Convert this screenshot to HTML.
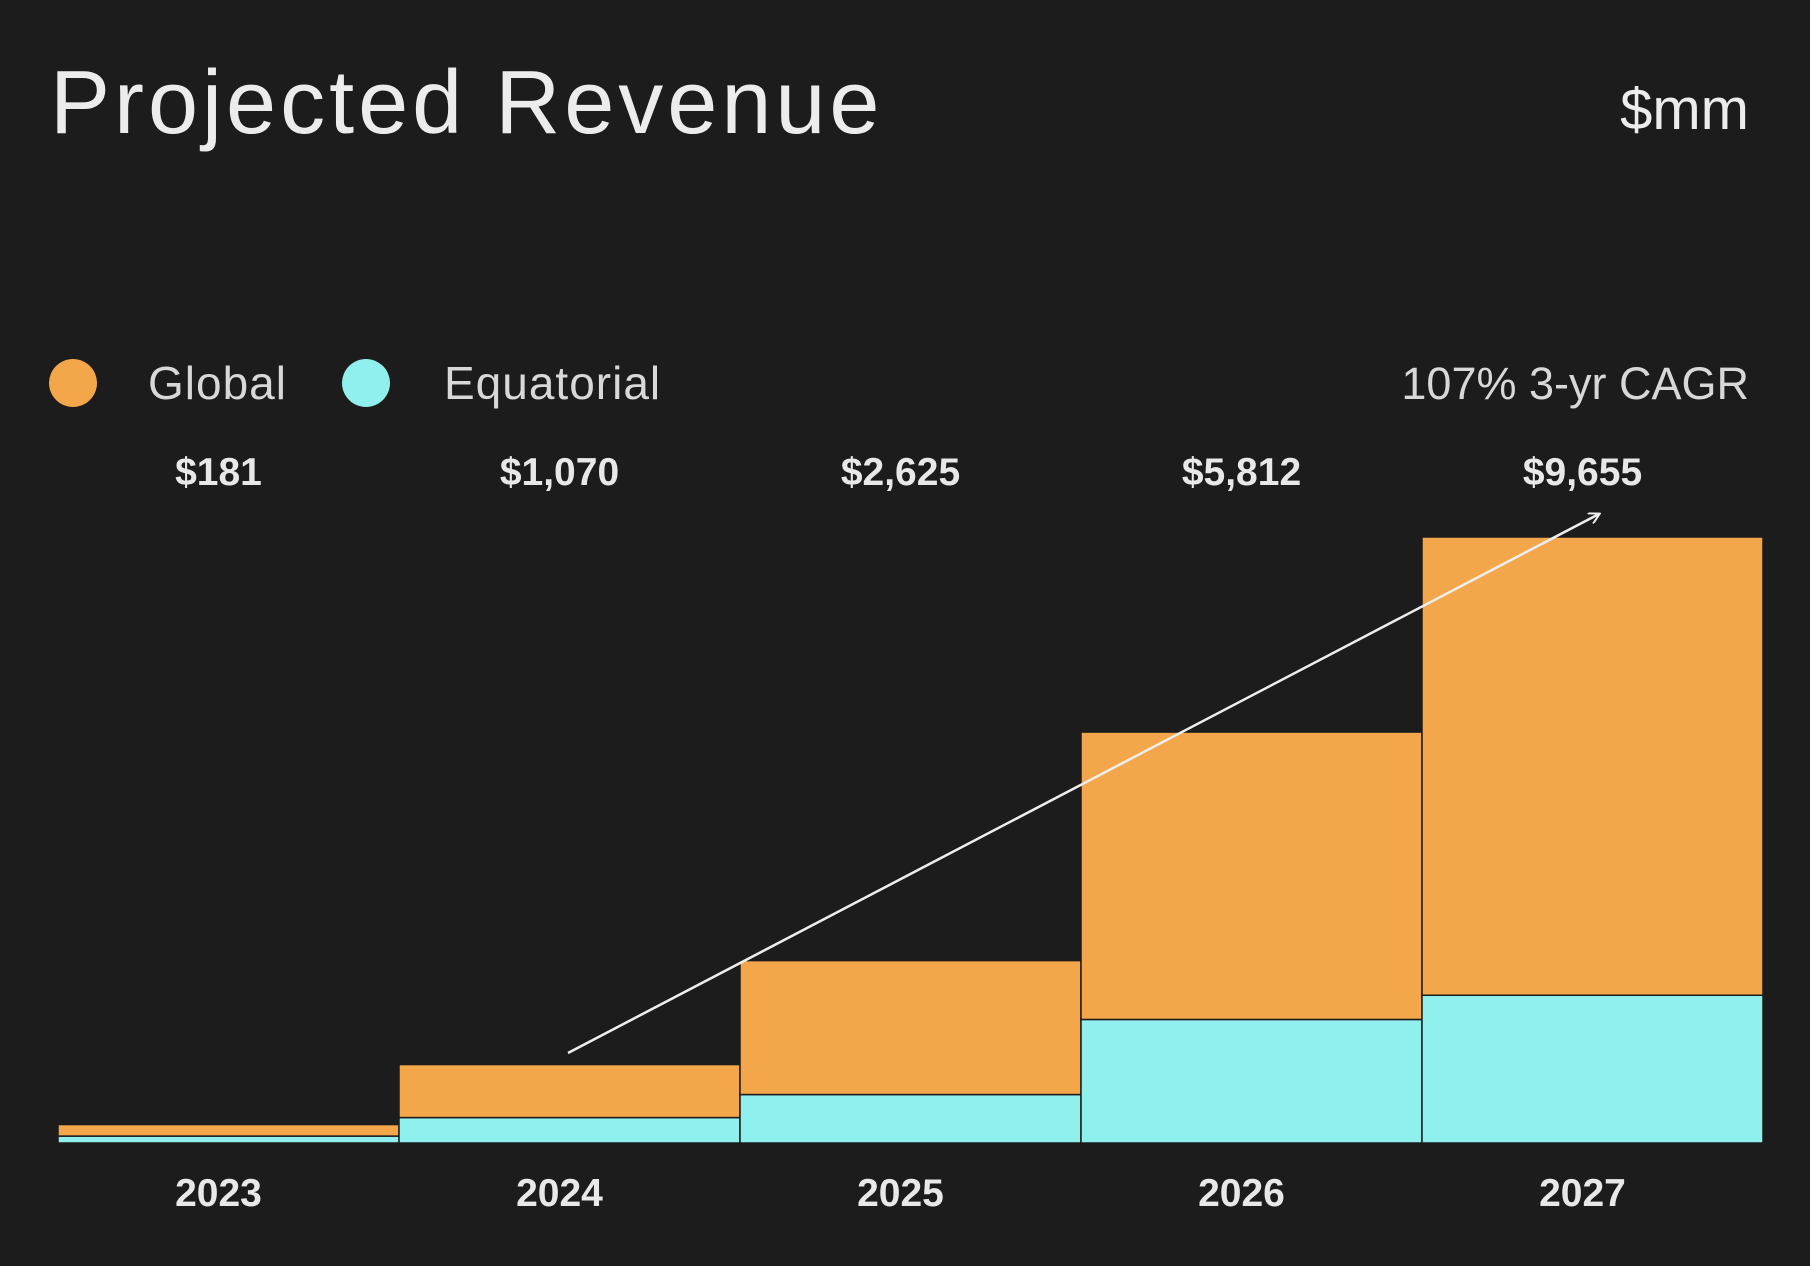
<!DOCTYPE html>
<html><head><meta charset="utf-8"><style>
html,body{margin:0;padding:0;background:#1c1c1c;}
svg{display:block;font-family:"Liberation Sans",sans-serif;}
</style></head><body>
<svg id="chart" width="1810" height="1266" viewBox="0 0 1810 1266" xmlns="http://www.w3.org/2000/svg">
<rect width="1810" height="1266" fill="#1c1c1c"/>
<text x="50" y="133" font-size="90" fill="#ececec" letter-spacing="4">Projected Revenue</text>
<text x="1749" y="129" font-size="58" fill="#ececec" text-anchor="end">$mm</text>
<circle cx="73" cy="383" r="24" fill="#f4a64a"/>
<text x="148" y="399" font-size="46" fill="#d8d8d8" letter-spacing="1">Global</text>
<circle cx="366" cy="383" r="24" fill="#8ff0ee"/>
<text x="444" y="399" font-size="46" fill="#d8d8d8" letter-spacing="1">Equatorial</text>
<text x="1749" y="399" font-size="45" fill="#d8d8d8" text-anchor="end">107% 3-yr CAGR</text>
<g id="bars"></g>
<g id="labels"></g>
<defs><marker id="ah" markerWidth="12" markerHeight="12" refX="10" refY="6" orient="auto" markerUnits="userSpaceOnUse"><path d="M0,0 L11,6 L0,12" fill="none" stroke="#eee" stroke-width="2"/></marker></defs>
<line x1="568" y1="1053" x2="1599" y2="514" stroke="#eeeeee" stroke-width="2.5" marker-end="url(#ah)"/>
</svg>
<script>
const years = ["2023","2024","2025","2026","2027"];
const totals = ["$181","$1,070","$2,625","$5,812","$9,655"];
const globalVals = [184, 845, 2134, 4579, 7301];
const equatorialVals = [110, 405, 772, 1968, 2354];
const NS="http://www.w3.org/2000/svg";
const x0=58, bw=341, base=1143, ppu=606/9655;
const xs=i=>x0+i*bw;
const ys=v=>v*ppu;
const bars=document.getElementById('bars'), labels=document.getElementById('labels');
function mk(tag,attrs,parent){const e=document.createElementNS(NS,tag);for(const k in attrs)e.setAttribute(k,attrs[k]);parent.appendChild(e);return e;}
years.forEach((y,i)=>{
  const he=ys(equatorialVals[i]), hg=ys(globalVals[i]);
  const e=mk('rect',{x:xs(i),y:base-he,width:bw,height:he,fill:'#8ff0ee',stroke:'#1c1c1c','stroke-width':1.5},bars);
  
  
  const g=mk('rect',{x:xs(i),y:base-he-hg,width:bw,height:hg,fill:'#f4a64a',stroke:'#1c1c1c','stroke-width':1.5},bars);
  
  
  const cx=xs(i)+bw/2-10;
  const t=mk('text',{x:cx,y:485,'font-size':39,'font-weight':'bold',fill:'#e8e8e8','text-anchor':'middle'},labels);
  t.textContent=totals[i];
  
  
  const yl=mk('text',{x:cx,y:1206,'font-size':39,'font-weight':'bold',fill:'#e8e8e8','text-anchor':'middle'},labels);
  yl.textContent=y;
  
  
});
</script>
</body></html>
